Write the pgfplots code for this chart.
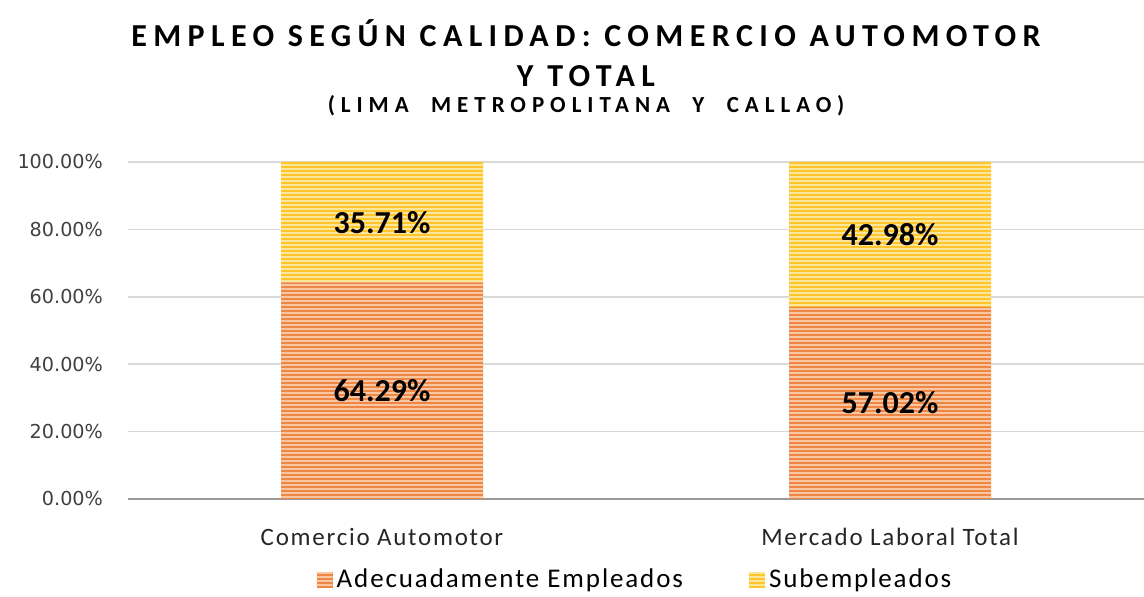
\documentclass[border=0pt]{standalone}
\usepackage{fontspec}
\setmainfont{Carlito}
\newfontfamily\tickfont{DejaVu Sans}
\newfontfamily\catfont[LetterSpace=7]{Carlito}
\newfontfamily\titlefont[LetterSpace=20]{Carlito}
\newfontfamily\subfont[LetterSpace=26]{Carlito}
\usepackage{pgfplots}
\pgfplotsset{compat=1.18}
\usetikzlibrary{patterns.meta}

\definecolor{orangebar}{HTML}{EE8646}
\definecolor{orangestripe}{HTML}{F8C7A2}
\definecolor{yellowbar}{HTML}{FFC52A}
\definecolor{yellowstripe}{HTML}{FCE69C}
\definecolor{gridgray}{HTML}{D9D9D9}
\definecolor{ticktext}{HTML}{404040}

\pgfplotsset{
    chartframe/.style={
        at={(0,0)}, anchor=south west,
        scale only axis,
        width=508pt, height=168.5pt,
        xmin=-0.5, xmax=1.5,
        ymin=0, ymax=100,
    },
}

\begin{document}
\begin{tikzpicture}
\path[use as bounding box] (-64pt,-49pt) rectangle (508pt,249.5pt);
\begin{axis}[
    chartframe,
    ybar stacked,
    bar width=101pt,
    xtick={0,1},
    xticklabels={Comercio Automotor, Mercado Laboral Total},
    xticklabel style={font=\catfont\fontsize{12.5}{14}\selectfont, text=black!85, yshift=-11pt},
    ytick={0,20,40,60,80,100},
    yticklabels={0.00\%,20.00\%,40.00\%,60.00\%,80.00\%,100.00\%},
    yticklabel style={font=\tickfont\fontsize{9.6}{11}\selectfont, text=ticktext, xshift=-9pt},
    ymajorgrids=true,
    grid style={gridgray, line width=0.8pt},
    axis x line=bottom,
    axis y line=left,
    x axis line style={-, draw=gray!80, line width=1pt},
    y axis line style={draw=none},
    major tick length=0pt,
    legend style={at={(0.5,-0.24)}, anchor=center, draw=none, fill=none,
        legend columns=2, font=\catfont\fontsize{13.5}{15}\selectfont,
        /tikz/every even column/.append style={column sep=31pt}},
    legend image code/.code={\fill[#1] (0pt,-4pt) rectangle (8pt,4pt);},
]
\addplot[fill=orangebar, draw=none,
    postaction={pattern={Lines[angle=0,distance=2pt,line width=0.7pt]}, pattern color=orangestripe}]
    coordinates {(0,64.29) (1,57.02)};
\addlegendentry{Adecuadamente Empleados}
\addplot[fill=yellowbar, draw=none,
    postaction={pattern={Lines[angle=0,distance=2pt,line width=0.7pt]}, pattern color=yellowstripe}]
    coordinates {(0,35.71) (1,42.98)};
\addlegendentry{Subempleados}
\end{axis}
% value labels, at the middle of each segment
\begin{axis}[
    chartframe,
    hide axis,
    point meta=explicit symbolic,
    nodes near coords,
    nodes near coords align={center},
    every node near coord/.append style={font=\bfseries\fontsize{16}{18}\selectfont, text=black, anchor=center},
]
\addplot[only marks, mark=*, mark size=0pt, mark options={draw=none, fill=none}]
    coordinates {(0,32.145) [64.29\%] (0,82.145) [35.71\%]
                 (1,28.51) [57.02\%] (1,78.51) [42.98\%]};
\end{axis}
\node[font=\titlefont\bfseries\fontsize{16}{19}\selectfont, align=center] at (229pt,223pt)
    {EMPLEO SEGÚN CALIDAD: COMERCIO AUTOMOTOR\\[1pt] Y TOTAL};
\node[font=\subfont\bfseries\fontsize{11.5}{13}\selectfont] at (229pt,196.5pt)
    {(LIMA\ \ METROPOLITANA\ \ Y\ \ CALLAO)};
\end{tikzpicture}
\end{document}
